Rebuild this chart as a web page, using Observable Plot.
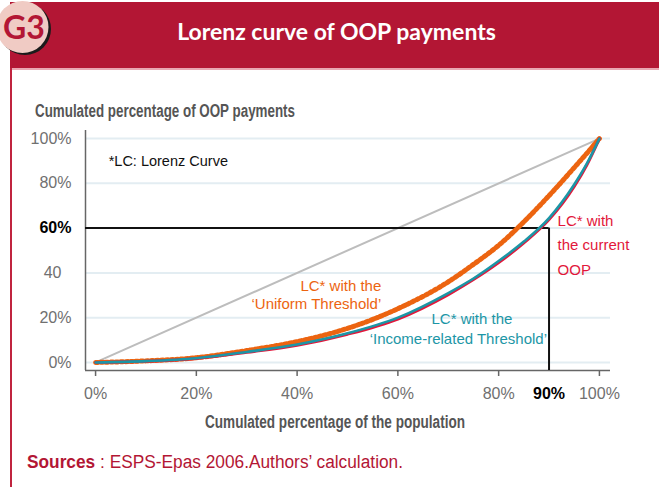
<!DOCTYPE html>
<html><head><meta charset="utf-8">
<script src="https://cdn.jsdelivr.net/npm/d3@7"></script>
<script src="https://cdn.jsdelivr.net/npm/@observablehq/plot@0.6"></script>
<style>
body{margin:0;background:#fff;}
#root{position:relative;width:659px;height:487px;overflow:hidden;background:#fff;font-family:"Liberation Sans",Arial,sans-serif;}
.banner{position:absolute;left:10px;top:2px;width:649px;height:66px;background:#B31634;}
.bline{position:absolute;left:10px;top:68px;width:649px;height:2px;background:#E9A7B2;}
.vline{position:absolute;left:10px;top:68px;width:2px;height:419px;background:#C0243F;}
.title{position:absolute;left:12px;width:649px;top:0px;height:62px;line-height:62px;text-align:center;color:#fff;font-weight:bold;font-size:23px;font-family:Lato,"Liberation Sans",sans-serif;}
.badge{position:absolute;left:0;top:0;}
.fit{position:absolute;white-space:nowrap;transform-origin:0 50%;}
.ytitle{left:35px;top:101px;font-weight:bold;font-size:18px;color:#555;}
.xtitle{left:205px;top:412px;font-weight:bold;font-size:18px;color:#555;}
.source{left:27px;top:452px;font-size:18px;color:#B31634;}
.source b{font-weight:bold;}
</style>
</head><body>
<div id="root">
  <div class="banner"></div>
  <div class="bline"></div>
  <div class="vline"></div>
  <svg class="badge" width="60" height="64">
    <circle cx="25" cy="29" r="26" fill="#1b1b1b"/>
    <circle cx="22.5" cy="27" r="26" fill="#F0CBC4"/>
    <text x="24" y="39" text-anchor="middle" font-family="Lato, 'Liberation Sans', sans-serif" font-weight="bold" font-size="32" fill="#B31634">G3</text>
  </svg>
  <div class="title">Lorenz curve of OOP payments</div>
  <div class="fit ytitle" data-w="260">Cumulated percentage of OOP payments</div>
  <div class="fit xtitle" data-w="260">Cumulated percentage of the population</div>
  <div class="fit source" data-w="376"><b>Sources</b> : ESPS-Epas 2006.Authors’ calculation.</div>
</div>
<script>
// Cumulated percentage of the population (x)
const popShare   = [0, 10, 20, 30, 40, 50, 60, 70, 75, 80, 85, 90, 95, 97.5, 100];
// Cumulated percentage of OOP payments (y) for each Lorenz curve
const lcUniform  = [0, 0.7, 2.1, 5.3, 9.3, 15.2, 24.0, 36.0, 43.8, 52.3, 62.8, 74.5, 87.0, 93.4, 100];
const lcIncome   = [0, 0.6, 1.9, 4.7, 8.0, 13.0, 20.0, 31.0, 37.5, 45.3, 54.0, 64.5, 79.5, 88.8, 100];
const lcCurrent  = [0, 0.5, 1.8, 4.5, 7.7, 12.6, 19.4, 30.3, 37.0, 44.6, 53.4, 63.8, 78.6, 88.2, 100];
// Line of equality
const eqX = [0, 100];
const eqY = [0, 100];
// Reference point (90% of population -> 60% of payments)
const refPop = 90;
const refPay = 60;
// Ticks
const xTicks = [0, 20, 40, 60, 80, 100];
const yTicksRegular = [0, 20, 80, 100];
const yTicks = [0, 20, 40, 60, 80, 100];
// Annotations
const noteText = ["*LC: Lorenz Curve"];
const labelUniform = ["LC* with the\n‘Uniform Threshold’"];
const labelIncome1 = ["LC* with the"];
const labelIncome2 = ["‘Income-related Threshold’"];
const labelCurrent = ["LC* with\nthe current\nOOP"];

const xMin = -2, xMax = 102.2, yMin = -3.6, yMax = 103.6;
const toRows = ys => popShare.map((x, i) => ({x, y: ys[i]}));
const eqRows = eqX.map((x, i) => ({x, y: eqY[i]}));
const font = '"Liberation Sans",Arial,sans-serif';

const cOrange = "#EC6410", cTeal = "#1C96A6", cRed = "#E2173B";

const chart = Plot.plot({
  width: 659, height: 290,
  marginLeft: 85, marginRight: 49, marginTop: 10, marginBottom: 40,
  x: {domain: [xMin, xMax]},
  y: {domain: [yMin, yMax]},
  style: {fontFamily: font, fontSize: "16px", background: "transparent", overflow: "visible"},
  marks: [
    Plot.gridY(yTicks, {stroke: "#E3EDF2", strokeOpacity: 1, strokeWidth: 2}),
    Plot.ruleX([xMin], {stroke: "#666", strokeWidth: 1.5}),
    Plot.ruleY([yMin], {stroke: "#666", strokeWidth: 1.5}),
    Plot.line(eqRows, {x: "x", y: "y", stroke: "#BDBDBD", strokeWidth: 2}),
    Plot.ruleY([refPay], {x1: xMin, x2: refPop, stroke: "#111", strokeWidth: 2}),
    Plot.ruleX([refPop], {y1: yMin, y2: refPay, stroke: "#111", strokeWidth: 2}),
    Plot.line(toRows(lcUniform), {x: "x", y: "y", stroke: cOrange, strokeWidth: 3, curve: "monotone-x"}),
    Plot.line(toRows(lcUniform), {x: "x", y: "y", stroke: cOrange, strokeWidth: 5, strokeDasharray: "2.5,2.5", curve: "monotone-x"}),
    Plot.line(toRows(lcCurrent), {x: "x", y: "y", stroke: cRed, strokeWidth: 3, curve: "monotone-x"}),
    Plot.line(toRows(lcIncome), {x: "x", y: "y", stroke: cTeal, strokeWidth: 2.6, curve: "monotone-x"}),
    Plot.axisX(xTicks, {tickSize: 6, tickPadding: 11, tickFormat: d => d + "%", fill: "#707070", stroke: "#666", strokeWidth: 1.5, fontSize: 16, label: null}),
    Plot.axisX([refPop], {tickSize: 0, tickPadding: 17, tickFormat: d => d + "%", fill: "#000", fontWeight: "bold", fontSize: 16, label: null}),
    Plot.axisY(yTicksRegular, {tickSize: 0, tickPadding: 14, tickFormat: d => d + "%", fill: "#707070", fontSize: 16, label: null}),
    Plot.axisY([40], {tickSize: 0, tickPadding: 24, tickFormat: d => String(d), fill: "#707070", fontSize: 16, label: null}),
    Plot.axisY([refPay], {tickSize: 0, tickPadding: 14, tickFormat: d => d + "%", fill: "#000", fontWeight: "bold", fontSize: 16, label: null}),
    Plot.text(noteText, {x: 2.6, y: 89.7, text: d => d, textAnchor: "start", fill: "#111", fontSize: 14.5}),
    Plot.text(labelUniform, {x: 56.7, y: 30.3, text: d => d, textAnchor: "end", fill: cOrange, fontSize: 15, lineHeight: 1.2}),
    Plot.text(labelIncome1, {x: 74.7, y: 19.5, text: d => d, textAnchor: "middle", fill: cTeal, fontSize: 15}),
    Plot.text(labelIncome2, {x: 72.0, y: 10.6, text: d => d, textAnchor: "middle", fill: cTeal, fontSize: 15}),
    Plot.text(labelCurrent, {x: 91.7, y: 53.6, text: d => d, textAnchor: "start", fill: cRed, fontSize: 15, lineHeight: 1.65})
  ]
});
chart.style.position = "absolute";
chart.style.left = "0px";
chart.style.top = "120px";
document.getElementById("root").appendChild(chart);

// condense the HTML titles to the reference widths
document.querySelectorAll(".fit").forEach(el => {
  const w = el.getBoundingClientRect().width;
  const target = +el.dataset.w;
  if (w > 0) el.style.transform = `scaleX(${target / w})`;
});
</script>
</body></html>
